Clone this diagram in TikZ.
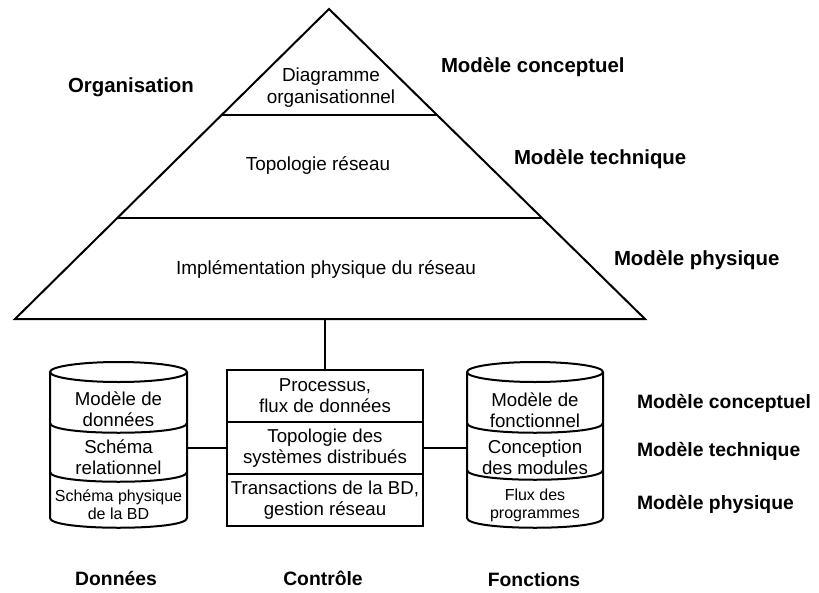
\documentclass[tikz,border=0pt]{standalone}
\usepackage{fontspec}
\setmainfont{Liberation Sans}
\usetikzlibrary{calc}
\begin{document}
\begin{tikzpicture}[x=0.75pt,y=-0.75pt,line width=1.5pt,
  lbl/.style={font=\fontsize{14.5}{17}\selectfont\bfseries,inner sep=0pt,text height=1.5ex,text depth=.25ex},
  tlbl/.style={lbl,font=\fontsize{15.3}{18}\selectfont\bfseries},
  txt/.style={font=\fontsize{14}{15.75}\selectfont,align=center,inner sep=0pt},
  ptxt/.style={font=\fontsize{14.2}{16.5}\selectfont,align=center,inner sep=0pt},
  sml/.style={font=\fontsize{12}{13.5}\selectfont,align=center,inner sep=0pt},
  rowbox/.style={draw,minimum width=147pt,minimum height=39pt,inner sep=0pt,align=center,font=\fontsize{14}{15.75}\selectfont}]
\useasboundingbox (0,0) rectangle (819,593);
% pyramid
\coordinate (apex) at (329,9);
\coordinate (bl) at (15,319);
\coordinate (br) at (645,319);
\coordinate (pbase) at (325,319);
\draw[line join=miter] (apex) -- (bl) -- (br) -- cycle;
\draw ($(apex)!0.342!(bl)$) -- ($(apex)!0.342!(br)$);
\draw ($(apex)!0.674!(bl)$) -- ($(apex)!0.674!(br)$);
\node[ptxt] (pt1) at (331,88) {Diagramme\\organisationnel};
\node[ptxt] (pt2) at (318,165) {Topologie réseau};
\node[ptxt] (pt3) at (326,269) {Implémentation physique du réseau};
% top labels
\node[tlbl] (org) at (131,88) {Organisation};
\node[tlbl,anchor=west] (mc1) at (440,68) {Modèle conceptuel};
\node[tlbl,anchor=west] (mt1) at (513,160) {Modèle technique};
\node[tlbl,anchor=west] (mp1) at (613,261) {Modèle physique};
% control box
\node[rowbox] (c1) at (325,396) {Processus,\\flux de données};
\node[rowbox] (c2) at (325,448) {Topologie des\\systèmes distribués};
\node[rowbox] (c3) at (325,500) {Transactions de la BD,\\gestion réseau};
\draw (pbase) -- (c1.north);
% left cylinder
\draw (50,372) -- (50,518) .. controls (50,531) and (187,531) .. (187,518) -- (187,372);
\draw (118.5,372) ellipse [x radius=68.5, y radius=10];
\draw (50,423) .. controls (50,436) and (187,436) .. (187,423);
\draw (50,472) .. controls (50,485) and (187,485) .. (187,472);
\coordinate (lcR) at (187,448);
\node[txt] (l1) at (118.5,409.5) {Modèle de\\données};
\node[txt] (l2) at (118.5,457) {Schéma\\relationnel};
\node[sml] (l3) at (118.5,505) {Schéma physique\\de la BD};
% right cylinder
\draw (467,372) -- (467,518) .. controls (467,531) and (603,531) .. (603,518) -- (603,372);
\draw (535,372) ellipse [x radius=68, y radius=10];
\draw (467,423) .. controls (467,436) and (603,436) .. (603,423);
\draw (467,470) .. controls (467,483) and (603,483) .. (603,470);
\coordinate (rcL) at (467,448);
\node[txt] (r1) at (535,410) {Modèle de\\fonctionnel};
\node[txt] (r2) at (535,457) {Conception\\des modules};
\node[sml] (r3) at (535,505) {Flux des\\programmes};
% connectors
\draw (lcR) -- (c2.west);
\draw (c2.east) -- (rcL);
% right labels
\node[lbl,anchor=west] (mc2) at (636,404) {Modèle conceptuel};
\node[lbl,anchor=west] (mt2) at (636,452) {Modèle technique};
\node[lbl,anchor=west] (mp2) at (636,505) {Modèle physique};
% bottom labels
\node[lbl] (don) at (116,581) {Données};
\node[lbl] (ctl) at (323,581) {Contrôle};
\node[lbl] (fct) at (534,582) {Fonctions};
\end{tikzpicture}
\end{document}
